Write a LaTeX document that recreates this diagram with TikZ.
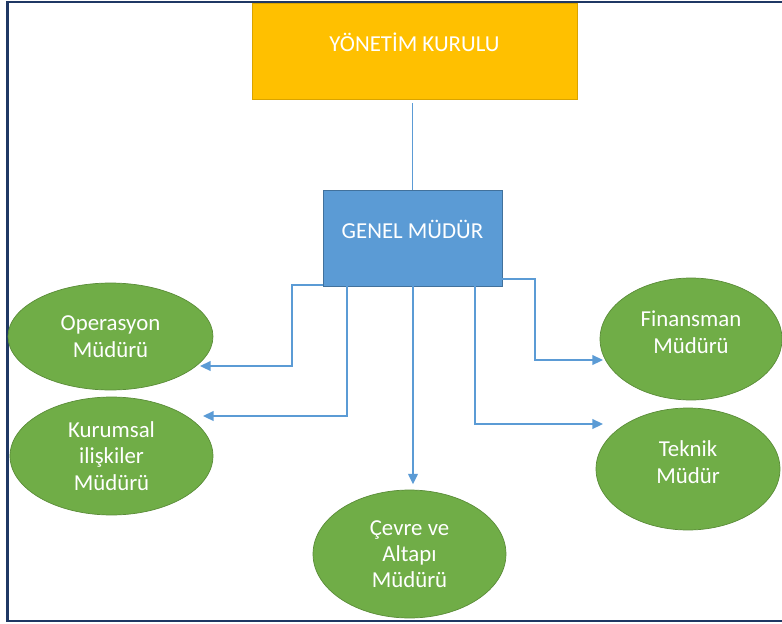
\documentclass[tikz,border=0pt]{standalone}
\usepackage{fontspec}
\setmainfont{Carlito}
\usetikzlibrary{shapes.geometric,arrows.meta}
\definecolor{kurulOrange}{HTML}{FFC000}
\definecolor{kurulEdge}{HTML}{D9A300}
\definecolor{mudurBlue}{HTML}{5B9BD5}
\definecolor{mudurEdge}{HTML}{41719C}
\definecolor{unitGreen}{HTML}{70AD47}
\definecolor{unitEdge}{HTML}{5A8C38}
\definecolor{frameBlue}{RGB}{31,56,100}

\begin{document}
\begin{tikzpicture}[x=0.02cm,y=-0.02cm,
    headbox/.style={rectangle, inner sep=0pt, line width=0.4pt, text=white,
        font=\fontsize{13}{15}\selectfont, text height=0.34cm, text depth=0.32cm},
    unit/.style={ellipse, draw=unitEdge, fill=unitGreen, line width=0.4pt,
        inner sep=0pt, align=center, text=white,
        font=\fontsize{13}{15}\selectfont},
    conn/.style={draw=mudurBlue, line width=1pt,
        -{Triangle[length=6pt,width=5.5pt]}}]
    % Page size and outer frame
    \useasboundingbox (0,0) rectangle (782,623);
    \draw[frameBlue, line width=1.2pt] (782,2) -- (7.5,2) -- (7.5,621) -- (782,621);

    % Board and general manager
    \node[headbox, draw=kurulEdge, fill=kurulOrange,
        minimum width=6.5cm, minimum height=1.92cm] (yk) at (414.5,51) {YÖNETİM KURULU};
    \node[headbox, draw=mudurEdge, fill=mudurBlue,
        minimum width=3.58cm, minimum height=1.92cm] (gm) at (412.5,238) {GENEL MÜDÜR};
    \draw[mudurBlue, line width=1pt] ([shift={(0,4)}]gm.north |- yk.south) -- (gm.north);

    % Departments
    \node[unit, minimum width=4.1cm, minimum height=2.14cm] (ops) at (110.5,336.5) {Operasyon\\Müdürü};
    \node[unit, minimum width=4.06cm, minimum height=2.36cm] (kur) at (111.5,456) {Kurumsal\\ilişkiler\\Müdürü};
    \node[unit, minimum width=3.86cm, minimum height=2.56cm, text depth=0cm] (cev) at (409.5,554) {Çevre ve\\Altapı\\Müdürü};
    \node[unit, minimum width=3.64cm, minimum height=2.44cm, text depth=0.28cm] (fin) at (691,339) {Finansman\\Müdürü};
    \node[unit, minimum width=3.68cm, minimum height=2.44cm, text depth=0.28cm] (tek) at (688,469) {Teknik\\Müdür};

    % Connectors
    \draw[conn] ([shift={(0,-1)}]gm.south west) -- ++(-31,0) |- ([shift={(89.5,29.5)}]ops.center);
    \draw[conn] ([shift={(24,0)}]gm.south west) |- ([shift={(91.5,-40)}]kur.center);
    \draw[conn] ([shift={(0.5,0)}]gm.south) -- ++(0,198);
    \draw[conn] ([shift={(-27,0)}]gm.south east) |- ([shift={(-85,-45)}]tek.center);
    \draw[conn] ([shift={(0,-7)}]gm.south east) -- ++(33,0) |- ([shift={(-88,21)}]fin.center);
\end{tikzpicture}
\end{document}
